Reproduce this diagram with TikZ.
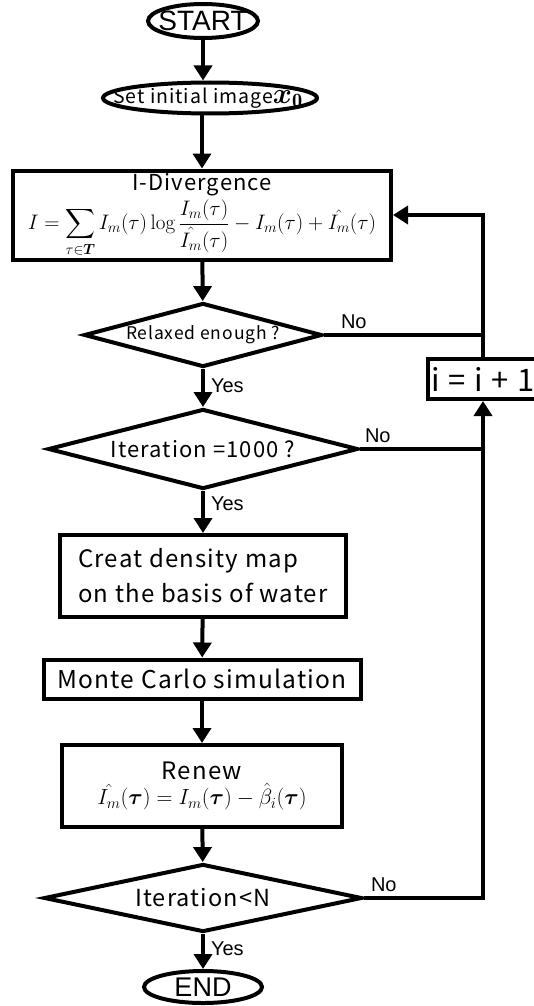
\RequirePackage{fix-cm}
\documentclass[tikz,border=0pt]{standalone}
\usepackage{amsmath,bm}
\usepackage{fontspec}
\newfontfamily\gothic{Noto Sans CJK JP}[LetterSpace=5]
\newfontfamily\arial{Liberation Sans}
\newcommand\fsz[1]{\fontsize{#1}{#1}\selectfont}
\usetikzlibrary{arrows.meta,shapes.geometric}
\tikzset{
>={Triangle[width=18pt,length=15pt]},
term node/.style={ellipse,draw,line width=4pt,inner sep=0pt},
box node/.style={rectangle,draw,line width=4pt,inner sep=0pt},
test node/.style={diamond,draw,line width=4pt,inner sep=0pt,aspect=4},
freccia/.style={->,line width=4pt},
linea/.style={line width=4pt},
etich/.style={font=\arial\fsz{20},inner sep=0pt}}

\begin{document}
\begin{tikzpicture}[x=1pt,y=-1pt,line join=miter]
\useasboundingbox (0,0) rectangle (533,1006);

\node[term node,minimum width=110pt,minimum height=34pt,
  label={[font=\arial\fsz{28}]center:START}] (start) at (203,21) {};
\node[term node,minimum width=214pt,minimum height=31pt,
  label={[font=\gothic\fsz{19.5},xshift=-2pt]center:Set initial image{\fsz{29}$\boldsymbol{x}_{\mathbf{0}}$}}] (init) at (210,98) {};
\node[box node,minimum width=378pt,minimum height=89pt,align=center] (idiv) at (202,215)
  {{\gothic\fsz{22}I-Divergence}\\[3pt]
   {\fsz{21}$\displaystyle I=\sum_{\tau\in\boldsymbol{T}} I_m(\tau)\log\frac{I_m(\tau)}{\hat{I_m}(\tau)}-I_m(\tau)+\hat{I_m}(\tau)$}};
\node[test node,minimum width=238pt,minimum height=64pt,font=\gothic\fsz{17.5}] (relax) at (203,335) {Relaxed enough ?};
\node[test node,minimum width=310pt,minimum height=80pt,font=\gothic\fsz{22}] (iter) at (203,449) {Iteration =1000 ?};
\node[box node,minimum width=286pt,minimum height=82pt,align=left,font=\gothic\fontsize{24}{35}\selectfont] (creat) at (203,576)
  {Creat density map\\on the basis of water};
\node[box node,minimum width=317pt,minimum height=39pt,font=\gothic\fsz{24.5}] (monte) at (202,679) {Monte Carlo simulation};
\node[box node,minimum width=280pt,minimum height=82pt,align=center] (renew) at (202,786)
  {{\gothic\fsz{24}Renew}\\[3pt]
   {\fsz{22}$\hat{I_m}(\boldsymbol{\tau})=I_m(\boldsymbol{\tau})-\hat{\beta}_i(\boldsymbol{\tau})$}};
\node[test node,minimum width=318pt,minimum height=68pt,font=\gothic\fsz{23.5}] (itern) at (203,898) {Iteration<N};
\node[box node,minimum width=110pt,minimum height=40pt,font=\gothic\fsz{31}] (inc) at (483,379) {i = i + 1};
\node[term node,minimum width=118pt,minimum height=32pt,
  label={[font=\arial\fsz{27}]center:END}] (fine) at (203,987) {};

\draw[freccia] (start.south) -- (start.south |- init.north);
\draw[freccia] (init.south -| idiv.north) -- (idiv.north);
\draw[freccia] (idiv) -- (relax);
\draw[freccia] (relax) -- node[etich,pos=0,anchor=north west,xshift=6pt,yshift=-8pt]{Yes} (iter);
\draw[freccia] (iter) -- node[etich,pos=0,anchor=north west,xshift=6pt,yshift=-4pt]{Yes} (creat);
\draw[freccia] (creat) -- (monte);
\draw[freccia] (monte) -- (renew);
\draw[freccia] (renew) -- (itern);
\draw[freccia] (itern) -- node[etich,pos=0,anchor=north west,xshift=6pt,yshift=-6pt]{Yes} (fine);

\draw[linea] (relax.east) -- node[etich,pos=0,anchor=south west,xshift=15pt,yshift=4pt]{No} (relax.east -| inc.north);
\draw[linea] (iter.east) -- node[etich,pos=0,anchor=south west,xshift=3pt,yshift=4pt]{No} (iter.east -| inc.south);
\draw[freccia] (itern.east) -- node[etich,pos=0,anchor=south west,xshift=5pt,yshift=4pt]{No} (itern.east -| inc.south) -- (inc.south);
\draw[freccia] (inc.north) |- (idiv.east);

\end{tikzpicture}
\end{document}
